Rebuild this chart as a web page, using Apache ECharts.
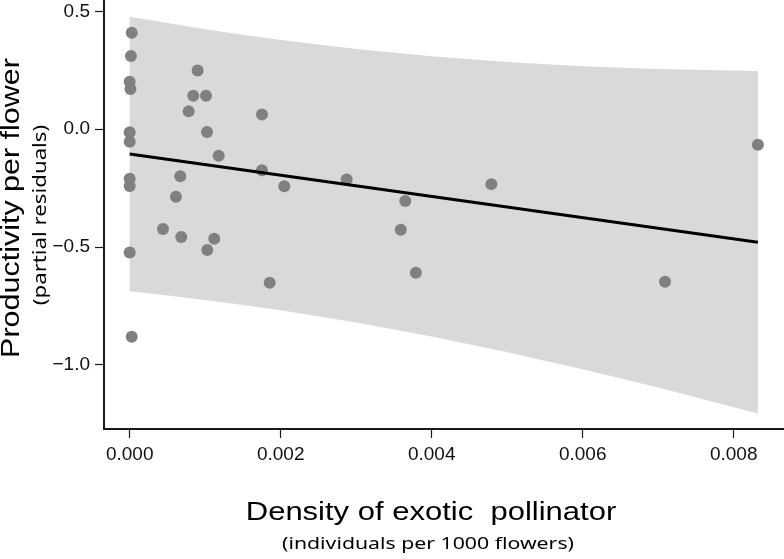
<!DOCTYPE html>
<html>
<head>
<meta charset="utf-8">
<script src="https://cdn.jsdelivr.net/npm/echarts@6/dist/echarts.min.js"></script>
<style>
html,body{margin:0;padding:0;background:#fff;}
#chart{width:784px;height:559px;}
</style>
</head>
<body>
<div id="chart"></div>
<script>
// ---- data ----
const xTicks = [0, 0.002, 0.004, 0.006, 0.008];
const yTicks = [-1.0, -0.5, 0.0, 0.5];

const densityX = [0.000027, 0.000017, 0.0, 0.00001, 0.000901, 0.000842, 0.001011, 0.000781, 0.001752,
  0.0, 0.0, 0.001024, 0.001179, 0.001752, 0.0, 0.0, 0.00067, 0.002048, 0.000613,
  0.000441, 0.000683, 0.00112, 0.001028, 0.0, 0.001854, 0.000027, 0.002874, 0.00365,
  0.00359, 0.00379, 0.00479, 0.00832, 0.00709];
const residualY = [0.409, 0.310, 0.201, 0.170, 0.249, 0.141, 0.141, 0.075, 0.062,
  -0.014, -0.054, -0.013, -0.113, -0.175, -0.211, -0.242, -0.201, -0.243, -0.288,
  -0.425, -0.459, -0.466, -0.514, -0.524, -0.653, -0.882, -0.214, -0.306,
  -0.428, -0.610, -0.234, -0.067, -0.649];

const fitX = [0.0, 0.00832];
const fitY = [-0.106, -0.481];

const bandX     = [0.0,    0.0005,  0.001,  0.0015, 0.002,  0.003,  0.004,  0.005,   0.006,  0.007,  0.00832];
const bandUpper = [0.477,  0.450,   0.424,  0.400,  0.378,  0.340,  0.309,  0.285,   0.267,  0.255,  0.246];
const bandLower = [-0.689, -0.707, -0.726, -0.747, -0.770, -0.822, -0.881, -0.948, -1.020, -1.098, -1.208];

const xTitle = 'Density of exotic  pollinator';
const xSubtitle = '(individuals per 1000 flowers)';
const yTitle = 'Productivity per flower';
const ySubtitle = '(partial residuals)';
// --------------------------------------

const chart = echarts.init(document.getElementById('chart'), null, {renderer: 'canvas'});

const points = densityX.map((x, i) => [x, residualY[i]]);
const fitLine = fitX.map((x, i) => [x, fitY[i]]);

const axisColor = '#1a1a1a';
const labelFont = '"Liberation Sans", Arial, sans-serif';

const option = {
  animation: false,
  backgroundColor: '#ffffff',
  grid: {left: 104, right: 0, top: 0, bottom: 130, containLabel: false},
  xAxis: {
    type: 'value',
    min: -0.00034,
    max: 0.008666,
    axisLine: {show: true, onZero: false, lineStyle: {color: axisColor, width: 2}},
    axisTick: {show: true, customValues: xTicks, length: 9, lineStyle: {color: axisColor, width: 1.2}},
    axisLabel: {
      customValues: xTicks, margin: 16, fontSize: 19, color: '#111', fontFamily: labelFont,
      formatter: v => v.toFixed(3)
    },
    splitLine: {show: false}
  },
  yAxis: {
    type: 'value',
    min: -1.274,
    max: 0.548,
    axisLine: {show: true, onZero: false, lineStyle: {color: axisColor, width: 2}},
    axisTick: {show: true, customValues: yTicks, length: 9, lineStyle: {color: axisColor, width: 1.2}},
    axisLabel: {
      customValues: yTicks, margin: 14, fontSize: 19, color: '#111', fontFamily: labelFont,
      formatter: v => (v < 0 ? '\u2212' : '') + Math.abs(v).toFixed(1)
    },
    splitLine: {show: false}
  },
  series: [
    {
      type: 'custom',
      z: 1,
      silent: true,
      data: [[0, 0]],
      renderItem: function (params, api) {
        const pts = [];
        for (let i = 0; i < bandX.length; i++) pts.push(api.coord([bandX[i], bandUpper[i]]));
        for (let i = bandX.length - 1; i >= 0; i--) pts.push(api.coord([bandX[i], bandLower[i]]));
        return {type: 'polygon', shape: {points: pts}, style: {fill: '#d9d9d9', stroke: null}};
      }
    },
    {
      type: 'scatter',
      z: 2,
      data: points,
      symbol: 'circle',
      symbolSize: 12,
      itemStyle: {color: '#808080', opacity: 1}
    },
    {
      type: 'line',
      z: 3,
      data: fitLine,
      symbol: 'none',
      lineStyle: {color: '#000', width: 3}
    }
  ],
  graphic: [
    {
      type: 'text', x: 12, y: 208, rotation: Math.PI / 2, scaleX: 1.15,
      style: {text: yTitle, font: '26.5px "Liberation Sans", Arial, sans-serif', fill: '#000', align: 'center', verticalAlign: 'middle'}
    },
    {
      type: 'text', x: 41, y: 215, rotation: Math.PI / 2, scaleX: 1.27,
      style: {text: ySubtitle, font: '17.5px "Noto Sans", sans-serif', fill: '#000', align: 'center', verticalAlign: 'middle'}
    },
    {
      type: 'text', x: 431, y: 513, scaleX: 1.17,
      style: {text: xTitle, font: '26.5px "Liberation Sans", Arial, sans-serif', fill: '#000', align: 'center', verticalAlign: 'middle'}
    },
    {
      type: 'text', x: 428, y: 544, scaleX: 1.25,
      style: {text: xSubtitle, font: '17px "Noto Sans", sans-serif', fill: '#000', align: 'center', verticalAlign: 'middle'}
    }
  ]
};

chart.setOption(option);
</script>
</body>
</html>
